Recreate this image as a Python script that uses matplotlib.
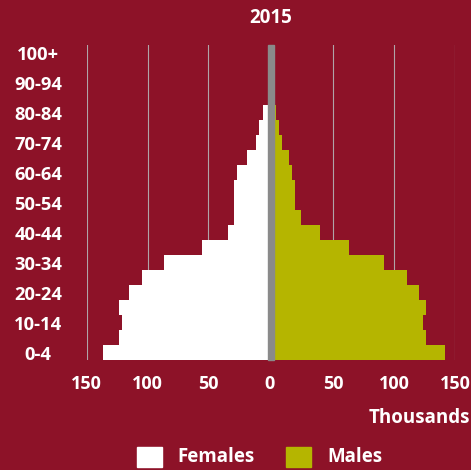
import matplotlib
matplotlib.use("Agg")
import matplotlib.pyplot as plt
from matplotlib.patches import Rectangle

# Population by five-year age group, thousands (2015)
age_groups = ["0-4", "5-9", "10-14", "15-19", "20-24", "25-29", "30-34", "35-39",
              "40-44", "45-49", "50-54", "55-59", "60-64", "65-69", "70-74",
              "75-79", "80-84", "85-89", "90-94", "95-99", "100+"]
females = [136.6, 123.2, 121.0, 123.2, 115.6, 104.9, 86.9, 54.9, 34.1, 28.7,
           28.7, 28.7, 26.2, 18.3, 10.9, 8.2, 5.4, 0.5, 0.3, 0.2, 0.1]
males = [141.8, 126.0, 123.5, 126.0, 120.7, 110.4, 92.0, 63.1, 39.6, 23.8,
         18.5, 18.5, 16.6, 13.9, 8.4, 5.7, 3.0, 2.8, 2.8, 2.8, 2.8]
x_ticks = [0, 50, 100, 150]
title = "2015"
unit_label = "Thousands"
series_names = ["Females", "Males"]

BG = "#8d1228"
FEMALE_COLOR = "#ffffff"
MALE_COLOR = "#b5b500"
GRID_COLOR = "#b0a4a8"
CENTER_COLOR = "#8a8a8a"
FONT = "Open Sans"

plt.rcParams["font.family"] = [FONT, "DejaVu Sans"]
plt.rcParams["font.weight"] = "bold"

W, H = 471, 470
fig = plt.figure(figsize=(W / 100, H / 100), dpi=100, facecolor=BG)


def fx(px):
    return px / W


def fy(py):
    return 1 - py / H


plot_top, plot_bot = 45, 360
ax_l = fig.add_axes([fx(86.7), fy(plot_bot), fx(269.3 - 86.7), (plot_bot - plot_top) / H])
ax_r = fig.add_axes([fx(272.0), fy(plot_bot), fx(455.0 - 272.0), (plot_bot - plot_top) / H])

ypos = list(range(len(age_groups)))

for ax in (ax_l, ax_r):
    ax.set_facecolor("none")
    for s in ax.spines.values():
        s.set_visible(False)
    ax.set_ylim(-0.5, len(age_groups) - 0.5)
    for t in x_ticks:
        ax.axvline(t, color=GRID_COLOR, lw=0.8, zorder=0)
    ax.tick_params(axis="both", length=0, colors="white", labelsize=13)

ax_l.barh(ypos, females, height=1.0, color=FEMALE_COLOR, linewidth=0, zorder=2)
ax_r.barh(ypos, males, height=1.0, color=MALE_COLOR, linewidth=0, zorder=2)

ax_l.set_xlim(150, 0)
ax_r.set_xlim(0, 150)

ax_l.set_xticks(x_ticks)
ax_l.set_xticklabels([str(t) for t in x_ticks], fontweight="bold")
ax_r.set_xticks(x_ticks[1:])
ax_r.set_xticklabels([str(t) for t in x_ticks[1:]], fontweight="bold")
for ax in (ax_l, ax_r):
    ax.tick_params(axis="x", pad=10.5)

ax_l.set_yticks(ypos[::2])
ax_l.set_yticklabels(age_groups[::2], fontweight="bold", ha="center", fontsize=13.2)
ax_l.tick_params(axis="y", pad=35)
ax_r.set_yticks([])

# zero line between the two halves
fig.add_artist(Rectangle((fx(268.3), fy(plot_bot)), fx(6.0), (plot_bot - plot_top) / H,
                         transform=fig.transFigure, color=CENTER_COLOR, zorder=5))

fig.text(fx(271), fy(18), title, color="white", fontsize=13.5, fontweight="bold",
         ha="center", va="center")
fig.text(fx(470), fy(418), unit_label, color="white", fontsize=13.5, fontweight="bold",
         ha="right", va="center")

# legend
for (x0, color, name, tx) in [(137, FEMALE_COLOR, series_names[0], 177),
                              (286, MALE_COLOR, series_names[1], 327)]:
    fig.add_artist(Rectangle((fx(x0), fy(467)), fx(25), 20 / H,
                             transform=fig.transFigure, color=color))
    fig.text(fx(tx), fy(457), name, color="white", fontsize=13.5, fontweight="bold",
             ha="left", va="center")

fig.savefig("out.png", dpi=100, facecolor=BG)
